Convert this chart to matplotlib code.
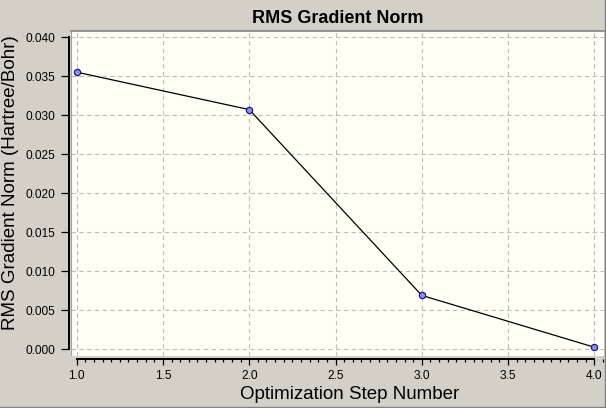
import numpy as np
import matplotlib
matplotlib.use("Agg")
import matplotlib.pyplot as plt
from matplotlib.ticker import MultipleLocator, FormatStrFormatter
from matplotlib.lines import Line2D

# data
steps = [1, 2, 3, 4]
rms_grad = [0.0355, 0.0307, 0.0069, 0.00026]

plt.rcParams['font.family'] = ['Liberation Sans', 'DejaVu Sans']

W, H = 606, 408
fig = plt.figure(figsize=(W / 100, H / 100), dpi=100)
fig.patch.set_facecolor('#D4D0C8')

# axes box in pixels (left, right, top, bottom)
L, R, T, B = 71, 604, 31, 355.5
ax = fig.add_axes([L / W, 1 - B / H, (R - L) / W, (B - T) / H])
ax.set_facecolor('#FFFFF6')

ax.plot(steps, rms_grad, color='black', lw=0.9, zorder=3)
ax.plot(steps, rms_grad, ls='none', marker='o', ms=4.5, mfc='#9090E8',
        mec='#1A1A80', mew=0.9, zorder=4, clip_on=False)

ax.set_xlim(0.967, 4.056)
ax.set_ylim(-0.0008, 0.04077)

ax.xaxis.set_major_locator(MultipleLocator(0.5))
ax.xaxis.set_minor_locator(MultipleLocator(0.05))
ax.yaxis.set_major_locator(MultipleLocator(0.005))
ax.xaxis.set_major_formatter(FormatStrFormatter('%.1f'))
ax.yaxis.set_major_formatter(FormatStrFormatter('%.3f'))

ax.grid(True, which='major', color='#BDBDBD', ls=(0, (4, 3)), lw=0.8)
ax.set_axisbelow(True)

ax.tick_params(axis='y', direction='out', length=5.8, width=0.9, pad=3.4,
               labelsize=8.6, colors='black')
ax.tick_params(axis='x', which='major', direction='out', length=4.4, width=0.9,
               pad=3.4, labelsize=8.6)
ax.tick_params(axis='x', which='minor', direction='out', length=2.5, width=0.9)

for s in ['left', 'bottom']:
    ax.spines[s].set_linewidth(1.4)
    ax.spines[s].set_color('black')
ax.spines['left'].set_position(('outward', 1.8))
ax.spines['bottom'].set_position(('outward', 2.5))
ax.spines['left'].set_bounds(0, 0.04)
ax.spines['bottom'].set_bounds(1, 4)
ax.spines['top'].set_color('#808080')
ax.spines['top'].set_linewidth(1.2)
ax.spines['right'].set_visible(False)

# sunken edge of the plot area
ax.add_line(Line2D([0, 0], [0, 1], transform=ax.transAxes, color='#A0A0A0',
                   lw=0.8, zorder=5))
ax.add_line(Line2D([0, 1], [0, 0], transform=ax.transAxes, color='white',
                   lw=1.0, zorder=5))

ax.set_title('RMS Gradient Norm', fontsize=13, fontweight='bold', pad=5.5)
ax.set_xlabel('Optimization Step Number', fontsize=13.5)
ax.set_ylabel('RMS Gradient Norm (Hartree/Bohr)', fontsize=13.5)
ax.xaxis.set_label_coords((350 - L) / (R - L), -(386 - B) / (B - T))
ax.yaxis.set_label_coords((19 - L) / (R - L), (B - 183) / (B - T))

# window frame
fig.add_artist(Line2D([604.5 / W, 604.5 / W], [0, 1], transform=fig.transFigure,
                      color='#808080', lw=1.0))
fig.add_artist(Line2D([0, 1], [1 - 406.5 / H, 1 - 406.5 / H], transform=fig.transFigure,
                      color='#808080', lw=1.0))

fig.savefig('out.png', dpi=100, facecolor=fig.get_facecolor())
